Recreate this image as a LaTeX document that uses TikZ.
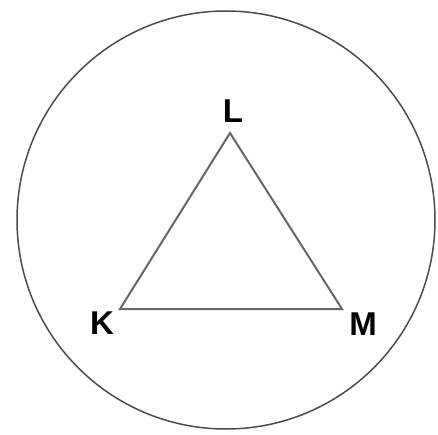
\documentclass[tikz,border=0pt]{standalone}
\usepackage{fontspec}
\setmainfont{Liberation Sans}
\begin{document}
\begin{tikzpicture}[x=1pt,y=-1pt,font=\fontsize{33}{34}\selectfont\bfseries]
\useasboundingbox(0,0)rectangle(438,435);
\draw[line width=1.5pt,black!70](226,220)circle(209);
\coordinate(K)at(120,309);\coordinate(L)at(230,133);\coordinate(M)at(342,309);
\draw[line width=2pt,black!60](K)--(L)--(M)--cycle;
\node(lK)at(102,323){K};\node(lL)at(233,111){L};\node(lM)at(363,324){M};
\end{tikzpicture}
\end{document}
